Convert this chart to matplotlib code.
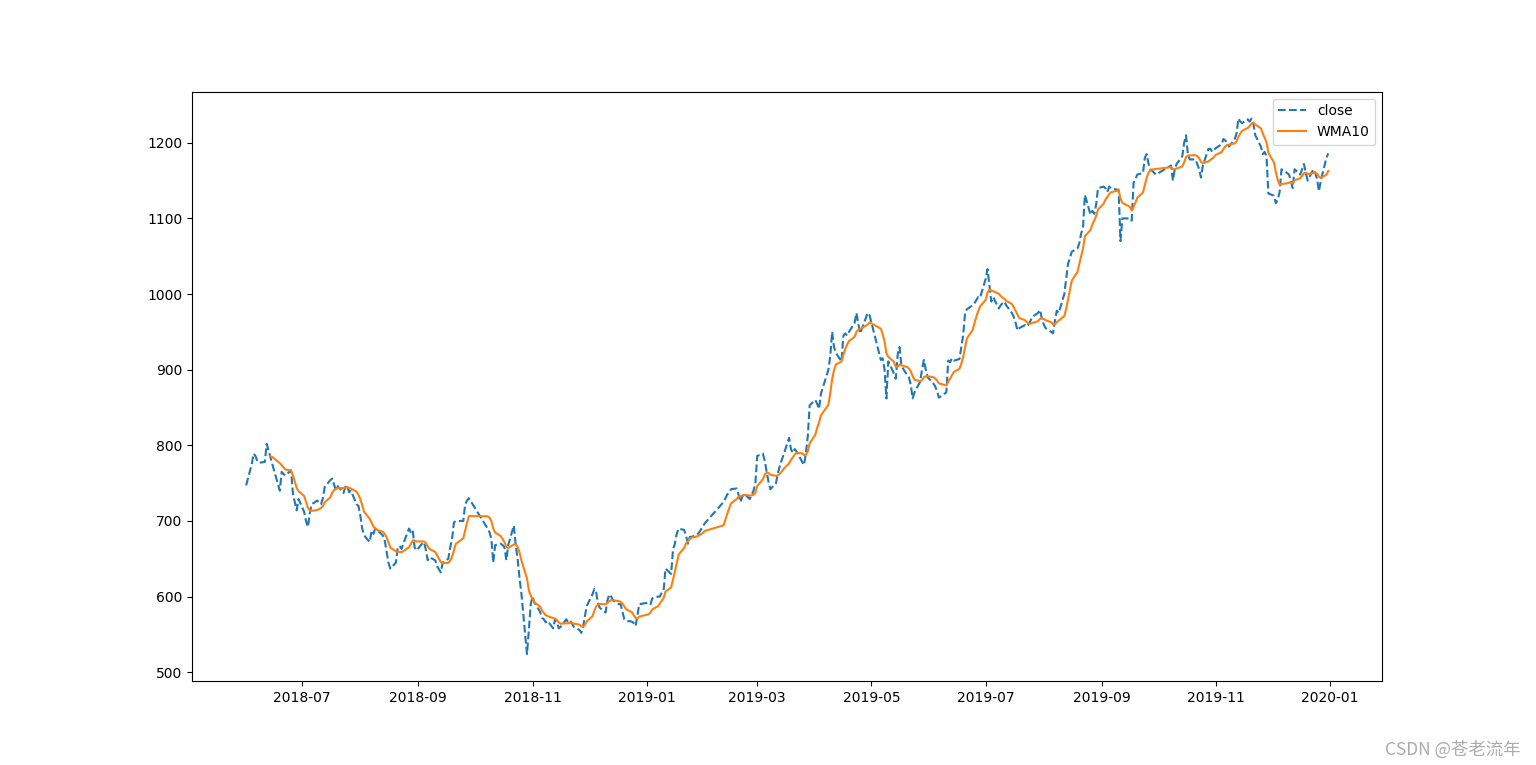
import numpy as np
import pandas as pd
import matplotlib
matplotlib.use("Agg")
import matplotlib.pyplot as plt

# Closing prices per month (trading days only)
jun18 = [747, 775, 789, 786, 779, 777, 778, 802, 793, 784, 775, 740, 765, 762, 760, 767, 736, 725, 714, 729]
jul18 = [712, 700, 692, 710, 722, 727, 724, 722, 730, 745, 754, 756, 748, 740, 746, 737, 745, 747, 738, 740, 722, 720]
aug18 = [707, 690, 681, 672, 687, 683, 690, 688, 681, 675, 660, 645, 637, 645, 665, 667, 663, 670, 690, 685, 688, 665, 661]
sep18 = [670, 672, 662, 648, 652, 648, 640, 636, 632, 645, 650, 665, 676, 698, 700, 700, 722, 727, 730]
oct18 = [690, 685, 676, 645, 668, 670, 668, 665, 648, 668, 694, 668, 650, 625, 605, 524, 555, 590]
nov18 = [600, 592, 580, 572, 570, 566, 568, 558, 570, 566, 558, 560, 570, 566, 568, 565, 560, 556, 552, 560, 575, 588]
dec18 = [603, 610, 605, 590, 585, 579, 595, 603, 600, 595, 590, 590, 580, 570, 568, 567, 565, 561, 575, 590]
jan19 = [592, 590, 598, 600, 600, 605, 608, 637, 630, 662, 670, 683, 690, 688, 680, 670, 679, 679, 682, 685, 689, 693]
feb19 = [697, 725, 730, 735, 738, 742, 743, 735, 725, 732, 736, 729, 735, 740, 750]
mar19 = [786, 789, 780, 765, 752, 742, 750, 763, 772, 780, 787, 810, 795, 790, 795, 792, 778, 774, 790, 812, 853]
apr19 = [860, 855, 848, 868, 900, 918, 950, 930, 922, 911, 945, 948, 945, 950, 962, 975, 960, 948, 955, 975, 972]
may19 = [913, 915, 900, 862, 911, 895, 888, 920, 930, 905, 893, 890, 880, 862, 870, 884, 900, 913, 900, 890]
jun19 = [882, 878, 872, 863, 870, 912, 910, 915, 912, 914, 930, 946, 975, 980, 985, 988, 992, 996, 995]
jul19 = [1020, 1033, 1012, 990, 996, 981, 985, 988, 990, 985, 975, 970, 962, 952, 955, 959, 957, 960, 965, 970, 975, 979, 968]
aug19 = [960, 955, 950, 948, 965, 978, 975, 1000, 1020, 1040, 1048, 1056, 1060, 1067, 1080, 1088, 1131, 1105, 1110, 1106, 1118, 1140]
sep19 = [1142, 1140, 1135, 1142, 1140, 1138, 1138, 1070, 1100, 1100, 1097, 1147, 1152, 1158, 1160, 1180, 1185, 1172, 1165, 1158]
oct19 = [1170, 1150, 1165, 1172, 1182, 1200, 1210, 1185, 1178, 1178, 1172, 1165, 1154, 1170, 1192, 1192, 1188, 1191]
nov19 = [1193, 1198, 1205, 1203, 1200, 1195, 1205, 1212, 1232, 1228, 1226, 1231, 1228, 1232, 1225, 1210, 1195, 1185, 1188, 1182, 1133]
dec19 = [1130, 1120, 1125, 1135, 1165, 1160, 1158, 1150, 1140, 1165, 1158, 1165, 1172, 1160, 1150, 1165, 1160, 1152, 1136, 1150, 1180, 1186]

# Exchange holidays falling on weekdays
holidays = ["2018-06-18", "2018-09-24", "2018-10-01", "2018-10-02", "2018-10-03", "2018-10-04",
            "2018-10-05", "2018-12-31", "2019-01-01", "2019-02-04", "2019-02-05", "2019-02-06",
            "2019-02-07", "2019-02-08", "2019-04-05", "2019-05-01", "2019-05-02", "2019-05-03",
            "2019-06-07", "2019-09-13", "2019-10-01", "2019-10-02", "2019-10-03", "2019-10-04",
            "2019-10-07"]

close = (jun18 + jul18 + aug18 + sep18 + oct18 + nov18 + dec18 + jan19 + feb19 + mar19 + apr19
         + may19 + jun19 + jul19 + aug19 + sep19 + oct19 + nov19 + dec19)

days = pd.bdate_range("2018-06-01", "2019-12-31")
days = days[~days.isin(pd.to_datetime(holidays))]
assert len(days) == len(close), (len(days), len(close))

s = pd.Series(close, index=days, dtype=float)
w = np.arange(1, 11)
wma = s.rolling(10).apply(lambda x: np.dot(x, w) / w.sum(), raw=True)

fig, ax = plt.subplots(figsize=(15.36, 7.65), dpi=100)
ax.plot(s.index, s.values, "--", label="close")
ax.plot(wma.index, wma.values, label="WMA10")
ax.legend(loc="upper right")

fig.text(0.99, 0.008, "CSDN @苍老流年", ha="right", va="bottom", fontsize=12.5,
         color="#ababab", family=["Noto Sans CJK SC", "DejaVu Sans"])

fig.savefig("out.png", dpi=100)
